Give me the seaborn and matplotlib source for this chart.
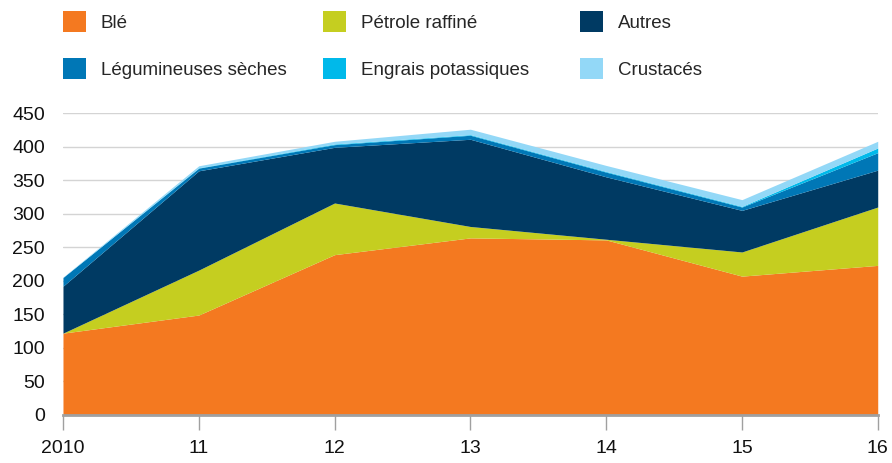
import numpy as np
import pandas as pd
import matplotlib
matplotlib.use('Agg')
import matplotlib.pyplot as plt
import seaborn as sns
from matplotlib.patches import Patch

# Data
years = [2010, 2011, 2012, 2013, 2014, 2015, 2016]
year_labels = ['2010', '11', '12', '13', '14', '15', '16']
ble = [122, 149, 239, 264, 261, 207, 223]
petrole = [0, 67, 77, 17, 1, 36, 87]
autres = [70, 148, 83, 130, 93, 62, 55]
legumineuses = [13, 4, 4, 6, 7, 5, 26]
engrais = [0, 0.5, 1, 1, 1, 1, 7]
crustaces = [0.5, 3, 4, 8, 9, 10, 10]

series_names = ['Blé', 'Pétrole raffiné', 'Autres',
                'Légumineuses sèches', 'Engrais potassiques', 'Crustacés']
colors = ['#F47920', '#C5CE20', '#003A63', '#0077B6', '#00B9EA', '#93D8F7']

df = pd.DataFrame({'year': years, 'Blé': ble, 'Pétrole raffiné': petrole,
                   'Autres': autres, 'Légumineuses sèches': legumineuses,
                   'Engrais potassiques': engrais, 'Crustacés': crustaces})

# Style
sns.set_theme(style="white")
plt.rcParams['font.family'] = ['Liberation Sans', 'DejaVu Sans']

fig = plt.figure(figsize=(8.92, 4.63), dpi=100)
ax = fig.add_axes([0.0706, 0.1037, 0.9134, 0.6520])

ax.stackplot(df['year'], [df[n] for n in series_names], colors=colors,
             linewidth=0, zorder=2)

ax.set_xlim(2010, 2016)
ax.set_ylim(0, 450)
ax.set_yticks(range(0, 451, 50))
ax.set_xticks(years)
ax.set_xticklabels(year_labels)

ax.yaxis.grid(True, color='#d4d4d4', linewidth=1, zorder=0)
ax.set_axisbelow(True)
for s in ['top', 'right', 'left']:
    ax.spines[s].set_visible(False)
ax.spines['bottom'].set_color('#a0a0a0')
ax.spines['bottom'].set_linewidth(2)
ax.spines['bottom'].set_zorder(5)

ax.tick_params(axis='x', direction='out', length=11, width=1, color='#a0a0a0',
               pad=7, labelsize=14, labelcolor='#111111', bottom=True)
ax.tick_params(axis='y', length=0, pad=13, labelsize=14, labelcolor='#111111')

# Legend: three columns of two entries
cols_x = [63 / 892, 323 / 892, 580 / 892]
for i, x0 in enumerate(cols_x):
    handles = [Patch(facecolor=colors[i], edgecolor='none', label=series_names[i]),
               Patch(facecolor=colors[i + 3], edgecolor='none', label=series_names[i + 3])]
    fig.legend(handles=handles, loc='upper left', bbox_to_anchor=(x0, 0.976),
               frameon=False, fontsize=13.5, handlelength=1.22, handleheight=1.33,
               handletextpad=0.8, labelspacing=1.4, borderpad=0, borderaxespad=0)

fig.savefig('out.png', dpi=100)
